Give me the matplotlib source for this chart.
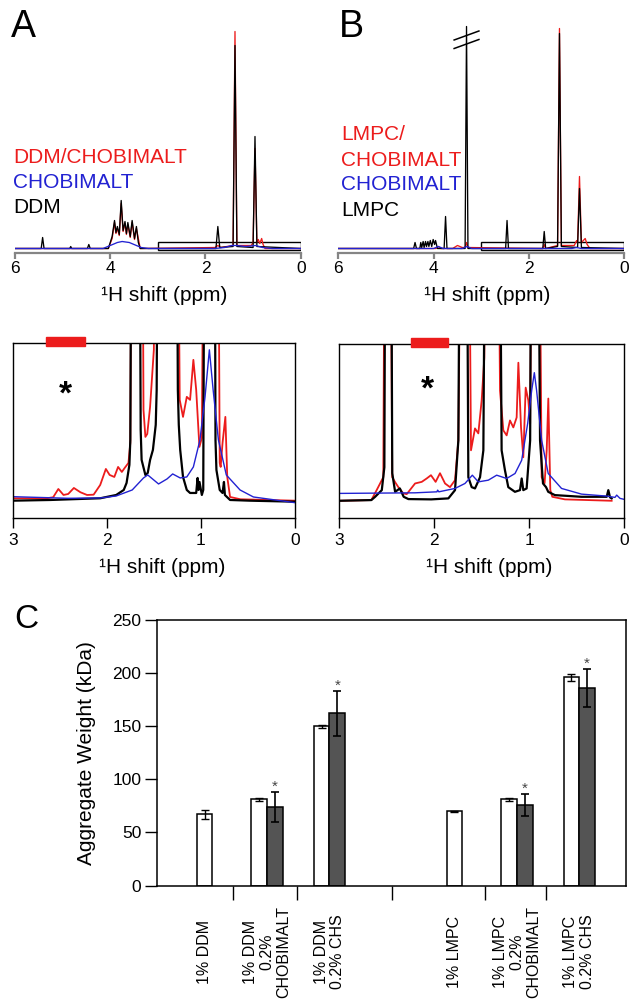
import matplotlib
matplotlib.use("Agg")
import matplotlib.pyplot as plt
from matplotlib.patches import Rectangle

plt.rcParams["font.family"] = ["Liberation Sans", "DejaVu Sans"]

W, H = 635, 1008
RED = "#ec1c1c"
BLUE = "#2222d2"
BLACK = "black"

# ---- panel A, full spectrum (ppm, intensity above baseline) ----
A_TOP_DDM_PPM = [6.0, 5.45, 5.42, 5.39, 4.85, 4.83, 4.81, 4.48, 4.45, 4.42, 4.04, 3.96, 3.91,
                 3.88, 3.85, 3.81, 3.77, 3.73, 3.69, 3.66, 3.63, 3.58, 3.54, 3.49, 3.45, 3.41,
                 3.37, 1.78, 1.74, 1.70, 1.42, 1.38, 1.34, 1.00, 0.96, 0.92, 0.0]
A_TOP_DDM_INT = [0, 0, 11, 0, 0, 2, 0, 0, 4, 0, 0, 12, 28, 16, 22, 14, 48, 18, 27, 15, 26, 12,
                 28, 10, 22, 6, 0, 0, 22, 1, 2, 203, 2, 1, 112, 2, 0]
A_TOP_MIX_PPM = [6.0, 4.04, 3.96, 3.91, 3.88, 3.85, 3.81, 3.77, 3.73, 3.69, 3.66, 3.63, 3.58,
                 3.54, 3.49, 3.45, 3.37, 1.80, 1.74, 1.68, 1.42, 1.38, 1.34, 1.04, 1.00, 0.96,
                 0.92, 0.89, 0.86, 0.82, 0.79, 0.75, 0.0]
A_TOP_MIX_INT = [0, 0, 10, 26, 15, 20, 13, 45, 17, 25, 14, 24, 11, 26, 9, 20, 0, 1, 3, 1, 3, 217,
                 3, 3, 6, 100, 6, 9, 5, 10, 4, 0, 0]
A_TOP_CHO_PPM = [6.0, 4.15, 4.0, 3.85, 3.75, 3.6, 3.5, 3.35, 3.2, 1.8, 1.6, 1.45, 1.35, 1.15,
                 0.95, 0.8, 0.6, 0.0]
A_TOP_CHO_INT = [0, 0, 3, 6, 7, 6, 4, 1, 0, 0, 1, 3, 3, 2, 3, 1, 0, 0]

# ---- panel B, full spectrum ----
B_TOP_LMPC_PPM = [6.0, 4.42, 4.39, 4.36, 4.29, 4.27, 4.25, 4.22, 4.20, 4.17, 4.15, 4.12, 4.10,
                  4.07, 4.04, 4.01, 3.98, 3.96, 3.92, 3.78, 3.75, 3.72, 3.34, 3.31, 3.28, 2.49,
                  2.46, 2.43, 1.71, 1.68, 1.65, 1.40, 1.36, 1.32, 0.98, 0.94, 0.90, 0.0]
B_TOP_LMPC_INT = [0, 0, 6, 0, 0, 6, 1, 7, 1, 7, 2, 7, 2, 8, 2, 9, 4, 8, 0, 0, 32, 0, 0, 222, 0,
                  0, 28, 0, 0, 17, 0, 2, 215, 2, 1, 60, 1, 0]
B_TOP_MIX_PPM = [6.0, 3.95, 3.90, 3.85, 3.60, 3.50, 3.40, 3.34, 3.31, 3.28, 1.71, 1.68, 1.65,
                 1.40, 1.36, 1.32, 1.05, 1.00, 0.98, 0.94, 0.90, 0.86, 0.82, 0.78, 0.72, 0.0]
B_TOP_MIX_INT = [0, 0, 2, 0, 0, 3, 1, 1, 6, 1, 0, 4, 0, 3, 220, 3, 3, 8, 6, 72, 6, 8, 10, 4, 0, 0]
B_TOP_CHO_PPM = [6.0, 4.0, 3.9, 3.8, 3.4, 3.3, 3.2, 1.1, 1.0, 0.9, 0.0]
B_TOP_CHO_INT = [0, 0, 2, 0, 0, 2, 0, 0, 1, 0, 0]

# ---- panel A, expanded 3-0 ppm ----
A_ZM_DDM_PPM = [3.00, 2.60, 2.07, 1.90, 1.82, 1.79, 1.76, 1.75, 1.735, 1.655, 1.64, 1.63, 1.59,
                1.565, 1.54, 1.51, 1.48, 1.47, 1.455, 1.26, 1.245, 1.235, 1.22, 1.19, 1.15,
                1.115, 1.05, 1.035, 1.025, 1.015, 0.99, 0.975, 0.96, 0.855, 0.845, 0.835, 0.80,
                0.77, 0.755, 0.745, 0.69, 0.48, 0.0]
A_ZM_DDM_INT = [-0.7, 0, 1.7, 5, 10, 17, 35, 60, 400, 400, 70, 40, 25, 27, 40, 50, 75, 110, 400,
                400, 110, 75, 50, 23, 10, 7, 7, 22, 10, 18, 5, 10, 400, 400, 60, 30, 10, 7, 18,
                5, 0, -0.7, -1.7]
A_ZM_MIX_PPM = [3.00, 2.64, 2.57, 2.515, 2.46, 2.41, 2.35, 2.28, 2.21, 2.14, 2.07, 2.01, 1.97,
                1.92, 1.88, 1.84, 1.81, 1.77, 1.75, 1.735, 1.625, 1.61, 1.59, 1.57, 1.54, 1.50,
                1.485, 1.25, 1.225, 1.19, 1.15, 1.115, 1.08, 1.05, 1.016, 0.99, 0.965, 0.82,
                0.80, 0.79, 0.77, 0.74, 0.72, 0.69, 0.58, 0.0]
A_ZM_MIX_INT = [1.7, 1.7, 2.7, 11, 5, 6, 12, 7.7, 5, 5.3, 15, 31, 25, 23, 33, 28, 32, 37, 57,
                400, 400, 90, 63, 66, 93, 150, 400, 400, 100, 83, 103, 100, 140, 110, 53, 62,
                400, 400, 37, 33, 57, 83, 23, 3, 0.7, -0.7]
A_ZM_CHO_PPM = [3.00, 2.41, 2.07, 1.90, 1.73, 1.61, 1.565, 1.45, 1.36, 1.30, 1.22, 1.15, 1.08,
                1.01, 0.956, 0.91, 0.87, 0.814, 0.73, 0.584, 0.442, 0.0]
A_ZM_CHO_INT = [3.3, 1.7, 2, 4, 10, 22, 25, 16, 21, 26, 22, 23, 33, 60, 103, 150, 110, 60, 25,
                10, 3, -2.7]

# ---- panel B, expanded 3-0 ppm ----
B_ZM_LMPC_PPM = [3.0, 2.66, 2.62, 2.55, 2.523, 2.51, 2.455, 2.44, 2.41, 2.36, 2.32, 2.27, 2.03,
                 1.85, 1.78, 1.745, 1.724, 1.66, 1.64, 1.605, 1.57, 1.517, 1.482, 1.458, 1.314,
                 1.29, 1.255, 1.22, 1.15, 1.097, 1.079, 1.062, 1.027, 0.99, 0.975, 0.911, 0.886,
                 0.855, 0.823, 0.80, 0.73, 0.45, 0.185, 0.168, 0.15, 0.133]
B_ZM_LMPC_INT = [-0.7, 0, 3.3, 10, 33, 400, 400, 27, 8.3, 11.7, 3.3, 1, 0.7, 1.7, 10, 60, 400,
                 400, 23, 13, 11.7, 23, 50, 400, 400, 50, 30, 13, 8.3, 10, 21.7, 10, 11.7, 60,
                 400, 400, 60, 16.7, 13, 8.3, 5, 3.3, 3.3, 10, 2.7, 1.7]
B_ZM_MIX_PPM = [3.0, 2.66, 2.604, 2.534, 2.516, 2.464, 2.44, 2.41, 2.376, 2.324, 2.288, 2.20,
                2.13, 2.078, 2.033, 1.984, 1.938, 1.885, 1.833, 1.78, 1.745, 1.71, 1.64, 1.612,
                1.57, 1.535, 1.50, 1.472, 1.454, 1.332, 1.307, 1.272, 1.237, 1.202, 1.167, 1.132,
                1.114, 1.086, 1.062, 1.037, 1.009, 0.99, 0.967, 0.90, 0.869, 0.838, 0.816, 0.799,
                0.778, 0.757, 0.624, 0.133]
B_ZM_MIX_INT = [-0.7, 0, 10, 23, 400, 400, 23, 18, 13, 6.7, 6, 16.7, 18.3, 21.7, 25, 18.3, 27,
                16.7, 13, 20, 60, 400, 400, 50, 72, 67, 100, 143, 400, 400, 110, 70, 65, 80, 73,
                83, 138, 73, 43, 113, 100, 77, 400, 400, 23, 17, 50, 102, 10, 3.3, 0.7, -0.7]
B_ZM_CHO_PPM = [3.0, 2.20, 1.97, 1.963, 1.95, 1.78, 1.675, 1.598, 1.535, 1.43, 1.342, 1.237,
                1.149, 1.079, 1.016, 0.974, 0.946, 0.922, 0.869, 0.80, 0.66, 0.45, 0.185, 0.098,
                0.08, 0.045, 0.0]
B_ZM_CHO_INT = [6.7, 7.3, 8.3, 10, 8.3, 11.7, 16.7, 25, 18.3, 20, 25, 21.7, 26.7, 40, 77, 110,
                128, 110, 60, 26.7, 11.7, 6, 4, 2.7, 5, 1.7, 0.7]

# region highlighted with red bar and asterisk (ppm)
A_BAR = (2.232, 2.646)
B_BAR = (1.857, 2.246)
A_STAR = (2.44, 105)
B_STAR = (2.07, 111)

# ---- panel C, aggregate weights ----
C_LABELS = ["1% DDM", "1% DDM\n0.2%\nCHOBIMALT", "1% DDM\n0.2% CHS",
            "1% LMPC", "1% LMPC\n0.2%\nCHOBIMALT", "1% LMPC\n0.2% CHS"]
C_POS = [0, 1, 2, 4, 5, 6]
C_SEPARATORS = [0.46, 1.48, 3.0, 4.49, 5.47]
C_PLAIN = [67, 81, 150, 70, 81, 196]
C_PLAIN_ERR = [4, 1, 1.5, 0.5, 1, 3]
C_MIXED_POS = [1, 2, 5, 6]
C_MIXED = [74, 162, 75.5, 186]
C_MIXED_ERR = [14, 21, 10.5, 18]


def px_axes(fig, x0, y0, x1, y1):
    return fig.add_axes([x0 / W, 1 - y1 / H, (x1 - x0) / W, (y1 - y0) / H])


def fig_text(fig, x, y, s, **kw):
    return fig.text(x / W, 1 - y / H, s, **kw)


def overview(fig, box, traces, legend, legend_x, legend_y):
    ax = px_axes(fig, *box)
    for ppm, val, col in traces:
        ax.plot(ppm, val, color=col, lw=0.95)
    ax.set_xlim(6, 0)
    ax.set_ylim(-4, 223.5)
    for s in ("left", "top", "right"):
        ax.spines[s].set_visible(False)
    ax.spines["bottom"].set_color("#858585")
    ax.spines["bottom"].set_linewidth(1.6)
    ax.set_yticks([])
    ax.set_xticks([6, 4, 2, 0])
    ax.set_xticklabels(["6", "4", "2", "0"])
    ax.tick_params(axis="x", colors="#858585", labelcolor="black", length=4.5, width=1.6,
                   labelsize=12.5, pad=1.5)
    ax.patch.set_alpha(0)
    ax.add_patch(Rectangle((0, -1), 3, 8, fill=False, lw=1.0, ec="black"))
    for (s, col), y in zip(legend, legend_y):
        fig_text(fig, legend_x, y, s, color=col, fontsize=15, ha="left", va="center")
    fig_text(fig, (box[0] + box[2]) / 2 + 6, 295, "¹H shift (ppm)", fontsize=15,
             ha="center", va="center")
    return ax


def expanded(fig, box, traces, bar, star):
    ax = px_axes(fig, *box)
    for ppm, val, col, lw in traces:
        ax.plot(ppm, val, color=col, lw=lw)
    ax.set_xlim(3, 0)
    ax.set_ylim(-17.7, 156.5)
    ax.set_yticks([])
    ax.set_xticks([3, 2, 1, 0])
    ax.tick_params(axis="x", length=7, width=1.0, labelsize=12.5, pad=4)
    for sp in ax.spines.values():
        sp.set_linewidth(1.0)
    ax.add_patch(Rectangle((bar[0], 0.985), bar[1] - bar[0], 0.053, color=RED,
                           transform=ax.get_xaxis_transform(), clip_on=False, zorder=5))
    ax.text(star[0], star[1], "*", fontsize=24, fontweight="bold", ha="center", va="center")
    fig_text(fig, (box[0] + box[2]) / 2 + 8, 567.5, "¹H shift (ppm)", fontsize=15,
             ha="center", va="center")
    return ax


def bar_panel(fig):
    ax = px_axes(fig, 157.3, 620, 625.7, 885.5)
    bw = 0.251
    plain_x = [p - bw / 2 if p in C_MIXED_POS else p for p in C_POS]
    ax.bar(plain_x, C_PLAIN, bw, color="white", edgecolor="black", lw=1.1,
           yerr=C_PLAIN_ERR, error_kw=dict(ecolor="black", elinewidth=1.0, capsize=2.8,
                                          capthick=1.0))
    mixed_x = [p + bw / 2 for p in C_MIXED_POS]
    ax.bar(mixed_x, C_MIXED, bw, color="#545454", edgecolor="black", lw=1.1,
           yerr=C_MIXED_ERR, error_kw=dict(ecolor="black", elinewidth=1.2, capsize=3.0,
                                          capthick=1.2))
    for x, v, e in zip(mixed_x, C_MIXED, C_MIXED_ERR):
        ax.annotate("*", (x, v + e), xytext=(0, 4), textcoords="offset points",
                    ha="center", va="center", fontsize=11, color="#444444")
    ax.set_xlim(-0.756, 6.743)
    ax.set_ylim(0, 250)
    ax.set_yticks([0, 50, 100, 150, 200, 250])
    ax.tick_params(axis="y", length=8.5, width=1.0, labelsize=12.5, pad=3)
    ax.set_xticks(C_SEPARATORS)
    ax.set_xticklabels([])
    ax.tick_params(axis="x", length=10, width=1.0)
    for sp in ax.spines.values():
        sp.set_linewidth(1.1)
    for p, lab in zip(C_POS, C_LABELS):
        ax.text(p, -0.2495, lab, transform=ax.get_xaxis_transform(), rotation=90,
                ha="center", va="center", fontsize=11.5, multialignment="center",
                linespacing=1.15)
    ax.set_ylabel("Aggregate Weight (kDa)", fontsize=15, va="center")
    ax.yaxis.set_label_coords(-0.1516, 0.5)
    return ax


def main():
    fig = plt.figure(figsize=(W / 100, H / 100), dpi=100, facecolor="white")

    overview(fig, (15, 25, 300.7, 252.5),
             [(A_TOP_MIX_PPM, A_TOP_MIX_INT, RED),
              (A_TOP_DDM_PPM, A_TOP_DDM_INT, BLACK),
              (A_TOP_CHO_PPM, A_TOP_CHO_INT, BLUE)],
             [("DDM/CHOBIMALT", RED), ("CHOBIMALT", BLUE), ("DDM", BLACK)],
             13, [157.5, 183, 207.5])
    axb = overview(fig, (338.3, 25, 624.3, 252.5),
                   [(B_TOP_MIX_PPM, B_TOP_MIX_INT, RED),
                    (B_TOP_LMPC_PPM, B_TOP_LMPC_INT, BLACK),
                    (B_TOP_CHO_PPM, B_TOP_CHO_INT, BLUE)],
                   [("LMPC/", RED), ("CHOBIMALT", RED), ("CHOBIMALT", BLUE), ("LMPC", BLACK)],
                   341, [134.5, 160, 184, 210])
    # axis break marks on the truncated 3.3 ppm peak
    brk = B_TOP_LMPC_PPM[B_TOP_LMPC_INT.index(max(B_TOP_LMPC_INT))]
    for lo in (200, 208.5):
        axb.plot([brk + 0.26, brk - 0.26], [lo, lo + 9], color="black", lw=1.1, clip_on=False)

    expanded(fig, (12.7, 343.3, 295, 517.7),
             [(A_ZM_MIX_PPM, A_ZM_MIX_INT, RED, 1.3),
              (A_ZM_DDM_PPM, A_ZM_DDM_INT, BLACK, 1.6),
              (A_ZM_CHO_PPM, A_ZM_CHO_INT, BLUE, 1.0)], A_BAR, A_STAR)
    expanded(fig, (339, 344.3, 624.3, 517.7),
             [(B_ZM_MIX_PPM, B_ZM_MIX_INT, RED, 1.3),
              (B_ZM_LMPC_PPM, B_ZM_LMPC_INT, BLACK, 1.6),
              (B_ZM_CHO_PPM, B_ZM_CHO_INT, BLUE, 1.0)], B_BAR, B_STAR)

    bar_panel(fig)

    fig_text(fig, 11, 37.3, "A", fontsize=27, ha="left", va="baseline")
    fig_text(fig, 339, 36.7, "B", fontsize=27, ha="left", va="baseline")
    fig_text(fig, 14, 628, "C", fontsize=24, ha="left", va="baseline")

    fig.savefig("out.png", dpi=100, facecolor="white")


if __name__ == "__main__":
    main()
